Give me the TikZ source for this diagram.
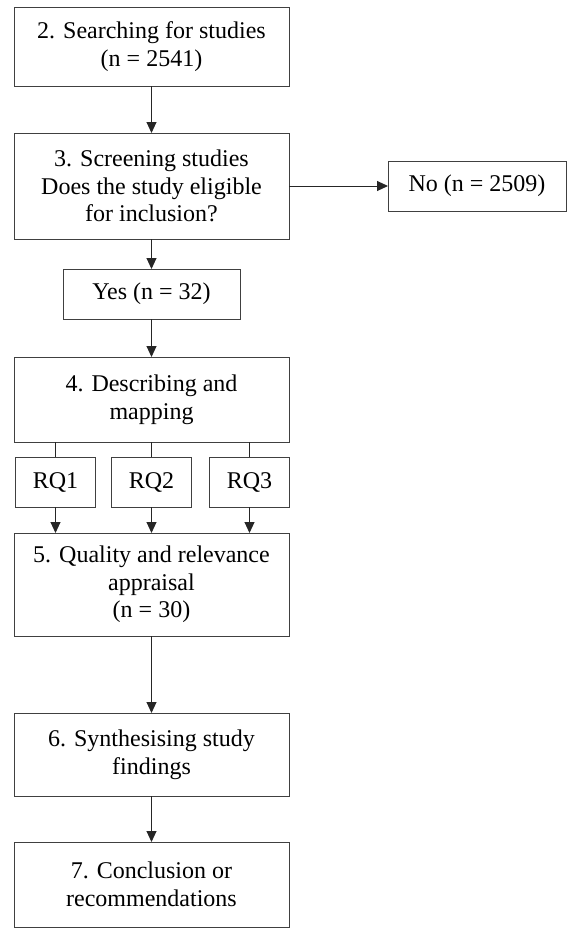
\documentclass[tikz,border=0pt]{standalone}
\usepackage{fontspec}
\setmainfont{Liberation Serif}
\usepackage{tikz}
\usetikzlibrary{positioning,arrows.meta}

\begin{document}
\begin{tikzpicture}
[
    x = 1pt, y = 1pt,
    every node/.style = {font = \fontsize{24}{27.6}\selectfont},
    stage/.style = {draw = black!75, line width = 1pt, minimum width = 275pt, align = center, inner sep = 0pt, outer sep = 0pt},
    tally/.style = {draw = black!75, line width = 1pt, minimum height = 50pt, align = center, inner sep = 0pt, outer sep = 0pt},
    link/.style = {draw = black!85, line width = 1pt},
    flow/.style = {link, -{Triangle[length = 11pt, width = 10pt]}},
]
\useasboundingbox (0,0) rectangle (569,-930);
\node[stage, minimum height = 79pt] (srch) at (151.5,-46.5) {2. Searching for studies\\(n = 2541)};
\node[stage, minimum height = 106pt, below = 47pt of srch] (scr) {3. Screening studies\\Does the study eligible\\for inclusion?};
\node[tally, minimum width = 178pt, right = 99pt of scr] (no) {No (n = 2509)};
\node[tally, minimum width = 177pt, below = 30pt of scr] (yes) {Yes (n = 32)};
\node[stage, minimum height = 85pt, below = 38pt of yes] (map) {4. Describing and\\mapping};
\node[tally, minimum width = 80pt, below = 15pt of map] (rq2) {RQ2};
\node[tally, minimum width = 80pt, left = 16pt of rq2] (rq1) {RQ1};
\node[tally, minimum width = 80pt, right = 18pt of rq2] (rq3) {RQ3};
\node[stage, minimum height = 103pt, below = 26pt of rq2] (qual) {5. Quality and relevance\\appraisal\\(n = 30)};
\node[stage, minimum height = 83pt, below = 77pt of qual] (synth) {6. Synthesising study\\findings};
\node[stage, minimum height = 85pt, below = 46pt of synth] (concl) {7. Conclusion or\\recommendations};

\draw[flow] (srch) -- (scr);
\draw[flow] (scr) -- (no);
\draw[flow] (scr) -- (yes);
\draw[flow] (yes) -- (map);
\draw[link] (map.south -| rq1) -- (rq1);
\draw[link] (map.south -| rq2) -- (rq2);
\draw[link] (map.south -| rq3) -- (rq3);
\draw[flow] (rq1) -- (rq1 |- qual.north);
\draw[flow] (rq2) -- (rq2 |- qual.north);
\draw[flow] (rq3) -- (rq3 |- qual.north);
\draw[flow] (qual) -- (synth);
\draw[flow] (synth) -- (concl);
\end{tikzpicture}
\end{document}
